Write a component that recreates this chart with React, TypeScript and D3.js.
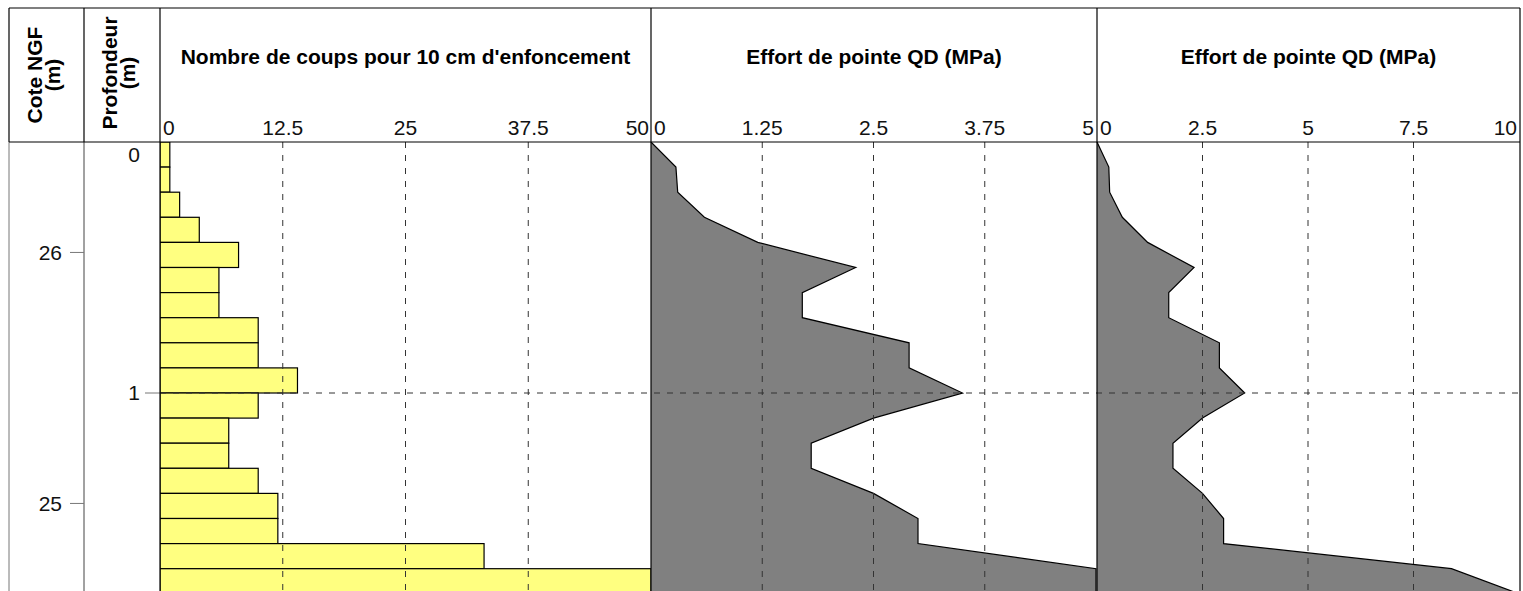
import React from "react";
import * as d3 from "d3";

// penetrometer log, one value every 10 cm
const depths = [0, 0.1, 0.2, 0.3, 0.4, 0.5, 0.6, 0.7, 0.8, 0.9, 1.0, 1.1, 1.2, 1.3, 1.4, 1.5, 1.6, 1.7, 1.8];
const blows = [1, 1, 2, 4, 8, 6, 6, 10, 10, 14, 10, 7, 7, 10, 12, 12, 33, 50];
const qd = [0, 0.28, 0.3, 0.6, 1.2, 2.3, 1.7, 1.7, 2.9, 2.9, 3.5, 2.5, 1.8, 1.8, 2.5, 3.0, 3.0, 8.4, 10];

const blowTicks = [0, 12.5, 25, 37.5, 50];
const qdTicksA = [0, 1.25, 2.5, 3.75, 5];
const qdTicksB = [0, 2.5, 5, 7.5, 10];
const depthTicks = [0, 1];
const coteTicks = [26, 25];
const groundLevel = 26.44;

const W = 1523;
const H = 591;
const top = 8;
const headY = 142;
const font = "Arial, 'Liberation Sans', sans-serif";

const yDepth = d3.scaleLinear().domain([0, 1]).range([headY, 393]);
const yCote = d3.scaleLinear().domain([groundLevel, groundLevel - 1]).range([headY, 393]);

const xBlows = d3.scaleLinear().domain([0, 50]).range([160, 651]).clamp(true);
const xQdA = d3.scaleLinear().domain([0, 5]).range([651, 1096]).clamp(true);
const xQdB = d3.scaleLinear().domain([0, 10]).range([1097, 1519]).clamp(true);

const points = depths.map((d, i) => ({ depth: d, v: qd[i] }));

const TickLabels = ({ x, ticks }: { x: d3.ScaleLinear<number, number>; ticks: number[] }) => (
  <g>
    {ticks.map((t, i) => {
      const anchor = i === 0 ? "start" : i === ticks.length - 1 ? "end" : "middle";
      const dx = i === 0 ? 3 : i === ticks.length - 1 ? -2 : 0;
      return (
        <text key={t} x={x(t) + dx} y={135} fontSize={21} textAnchor={anchor} fill="#111">
          {t}
        </text>
      );
    })}
  </g>
);

const Grid = ({ x, ticks }: { x: d3.ScaleLinear<number, number>; ticks: number[] }) => (
  <g stroke="#333" strokeDasharray="6,7" strokeWidth={1}>
    {ticks.slice(1, -1).map((t) => (
      <line key={t} x1={x(t)} x2={x(t)} y1={headY} y2={H} />
    ))}
  </g>
);

const QdArea = ({ x }: { x: d3.ScaleLinear<number, number> }) => {
  const area = d3
    .area<{ depth: number; v: number }>()
    .y((d) => yDepth(d.depth))
    .x0(x(0))
    .x1((d) => x(d.v));
  const line = d3
    .line<{ depth: number; v: number }>()
    .y((d) => yDepth(d.depth))
    .x((d) => x(d.v));
  return (
    <g>
      <path d={area(points) || ""} fill="#808080" />
      <path d={line(points) || ""} fill="none" stroke="#000" strokeWidth={1.2} />
    </g>
  );
};

const App = () => {
  return (
    <svg
      width={W}
      height={H}
      style={{ position: "absolute", left: 0, top: 0, display: "block", background: "#fff" }}
      fontFamily={font}
    >
      <defs>
        <clipPath id="plot">
          <rect x={160} y={headY} width={1360} height={H - headY} />
        </clipPath>
      </defs>

      {/* bars */}
      <g clipPath="url(#plot)">
        {blows.map((b, i) => (
          <rect
            key={i}
            x={xBlows(0)}
            y={yDepth(depths[i])}
            width={xBlows(b) - xBlows(0)}
            height={yDepth(depths[i + 1]) - yDepth(depths[i])}
            fill="#ffff80"
            stroke="#000"
            strokeWidth={1.2}
          />
        ))}
        <QdArea x={xQdA} />
        <QdArea x={xQdB} />
      </g>

      {/* grid */}
      <Grid x={xBlows} ticks={blowTicks} />
      <Grid x={xQdA} ticks={qdTicksA} />
      <Grid x={xQdB} ticks={qdTicksB} />
      <g stroke="#333" strokeDasharray="6,7">
        {depthTicks.slice(1).map((d) => (
          <line key={d} x1={160} x2={1519} y1={yDepth(d)} y2={yDepth(d)} />
        ))}
      </g>

      {/* left columns */}
      <line x1={9} x2={9} y1={headY} y2={H} stroke="#777" />
      <line x1={84} x2={84} y1={headY} y2={H} stroke="#444" />
      {coteTicks.map((c) => (
        <g key={c}>
          <line x1={70} x2={84} y1={yCote(c)} y2={yCote(c)} stroke="#777" />
          <text x={62} y={yCote(c)} dy="0.35em" fontSize={21} textAnchor="end" fill="#111">
            {c}
          </text>
        </g>
      ))}
      {depthTicks.map((d) => (
        <g key={d}>
          {d > 0 && <line x1={145} x2={160} y1={yDepth(d)} y2={yDepth(d)} stroke="#777" />}
          <text
            x={140}
            y={d === 0 ? yDepth(d) + 13 : yDepth(d)}
            dy="0.35em"
            fontSize={21}
            textAnchor="end"
            fill="#111"
          >
            {d}
          </text>
        </g>
      ))}

      {/* header */}
      <g stroke="#000" strokeWidth={1.2}>
        <line x1={9} x2={1520} y1={top} y2={top} />
        <line x1={9} x2={1520} y1={headY} y2={headY} />
        <line x1={9} x2={9} y1={top} y2={headY} />
        <line x1={84} x2={84} y1={top} y2={headY} />
        <line x1={160} x2={160} y1={top} y2={H} />
        <line x1={651} x2={651} y1={top} y2={H} />
        <line x1={1097} x2={1097} y1={top} y2={H} />
        <line x1={1520} x2={1520} y1={top} y2={H} />
      </g>

      <g fontWeight="bold" fontSize={21} textAnchor="middle" fill="#000">
        <text transform={`translate(42,75) rotate(-90)`}>Cote NGF</text>
        <text transform={`translate(60,75) rotate(-90)`}>(m)</text>
        <text transform={`translate(117,73) rotate(-90)`}>Profondeur</text>
        <text transform={`translate(135,73) rotate(-90)`}>(m)</text>
        <text x={(160 + 651) / 2} y={64}>Nombre de coups pour 10 cm d'enfoncement</text>
        <text x={(651 + 1097) / 2} y={64}>Effort de pointe QD (MPa)</text>
        <text x={(1097 + 1520) / 2} y={64}>Effort de pointe QD (MPa)</text>
      </g>

      <TickLabels x={xBlows} ticks={blowTicks} />
      <TickLabels x={xQdA} ticks={qdTicksA} />
      <TickLabels x={xQdB} ticks={qdTicksB} />
    </svg>
  );
};

export default App;
